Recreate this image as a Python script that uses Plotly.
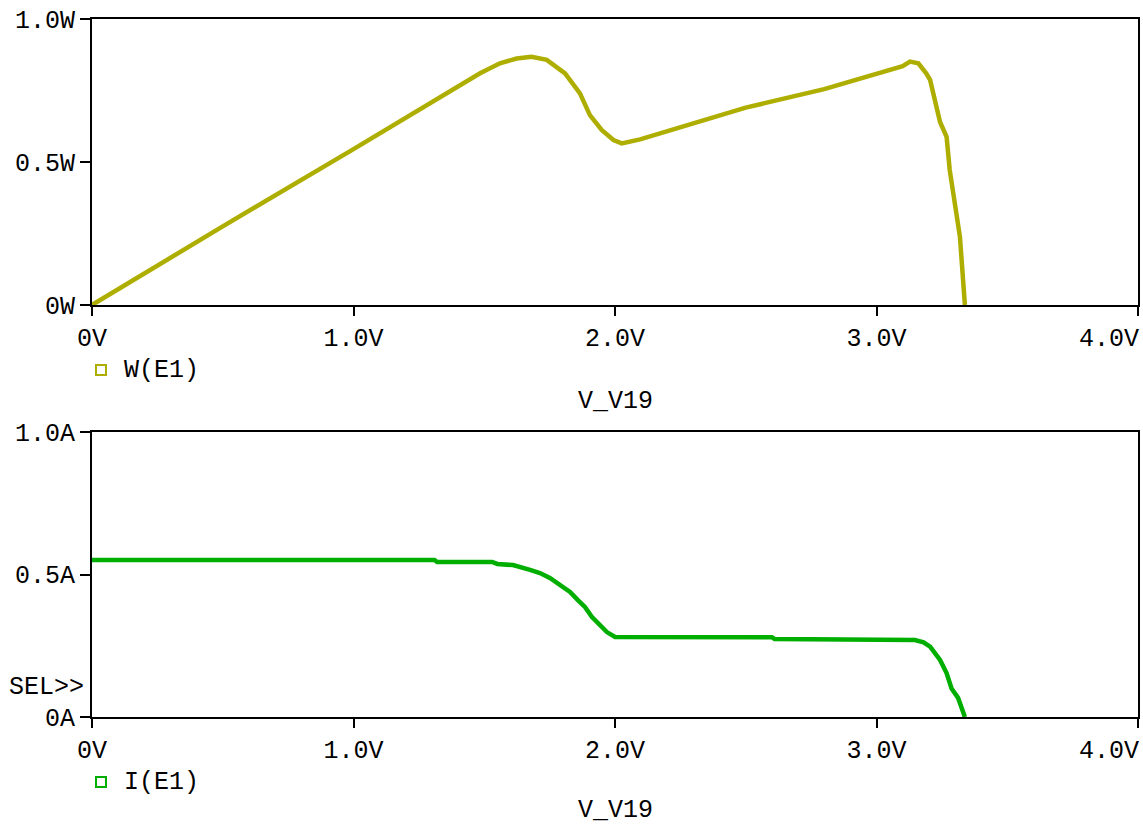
import plotly.graph_objects as go

# Sweep of V_V19 and the measured responses of E1
v_power = [0.0, 0.5, 1.0, 1.31, 1.484, 1.56, 1.624, 1.681, 1.739, 1.809, 1.866, 1.904,
           1.949, 1.994, 2.026, 2.096, 2.172, 2.5, 2.8, 3.0, 3.1, 3.128, 3.16, 3.19,
           3.205, 3.243, 3.268, 3.28, 3.307, 3.319, 3.338]
w_power = [0.0, 0.275, 0.545, 0.714, 0.81, 0.845, 0.862, 0.868, 0.857, 0.81, 0.74, 0.664,
           0.612, 0.577, 0.565, 0.579, 0.6, 0.69, 0.755, 0.81, 0.835, 0.851, 0.845, 0.81,
           0.787, 0.64, 0.588, 0.472, 0.297, 0.239, 0.0]

v_current = [0.0, 1.31, 1.32, 1.53, 1.55, 1.61, 1.675, 1.713, 1.751, 1.79, 1.828, 1.858,
             1.885, 1.912, 1.943, 1.969, 2.0, 2.6, 2.61, 3.147, 3.18, 3.205, 3.243, 3.268,
             3.287, 3.312, 3.338]
i_current = [0.551, 0.551, 0.544, 0.544, 0.537, 0.533, 0.516, 0.505, 0.488, 0.463, 0.439,
             0.41, 0.386, 0.351, 0.319, 0.298, 0.281, 0.280, 0.274, 0.270, 0.262, 0.247,
             0.2, 0.154, 0.1, 0.067, 0.0]

x_ticks = [0, 1, 2, 3, 4]
x_labels = ["0V", "1.0V", "2.0V", "3.0V", "4.0V"]
y_ticks = [0, 0.5, 1.0]
w_labels = ["0W", "0.5W", "1.0W"]
i_labels = ["0A", "0.5A", "1.0A"]

W_COLOR = "#AEAE00"
I_COLOR = "#00AE00"
FONT = "Liberation Mono"
FS = 25
W, H = 1143, 825

fig = go.Figure()
fig.add_trace(go.Scatter(x=v_power, y=w_power, mode="lines", name="W(E1)",
                         line=dict(color=W_COLOR, width=4.5), xaxis="x", yaxis="y"))
fig.add_trace(go.Scatter(x=v_current, y=i_current, mode="lines", name="I(E1)",
                         line=dict(color=I_COLOR, width=4.5), xaxis="x2", yaxis="y2"))

x0, x1 = 92 / W, 1138 / W
top_dom = [1 - 305 / H, 1 - 19 / H]
bot_dom = [1 - 717 / H, 1 - 432 / H]

# the last x label is pulled inside the page edge, so it is drawn separately
shown_x_labels = x_labels[:-1] + [""]

common_x = dict(range=[0, 4], tickvals=x_ticks, ticktext=shown_x_labels, showgrid=False,
                zeroline=False, showline=True, linecolor="black", linewidth=2,
                mirror=True, ticks="outside", ticklen=9, tickwidth=2, tickcolor="black",
                domain=[x0, x1], automargin=False, ticklabeloverflow="allow",
                tickfont=dict(family=FONT, size=FS, color="black"))
common_y = dict(range=[0, 1], tickvals=y_ticks, showgrid=False, zeroline=False,
                showline=True, linecolor="black", linewidth=2, mirror=True,
                ticks="outside", ticklen=10, tickwidth=2, tickcolor="black",
                automargin=False, ticklabeloverflow="allow",
                tickfont=dict(family=FONT, size=FS, color="black"))

fig.update_layout(
    width=W, height=H, margin=dict(l=0, r=0, t=0, b=0, autoexpand=False),
    paper_bgcolor="white", plot_bgcolor="white", showlegend=False,
    font=dict(family=FONT, size=FS, color="black"),
    xaxis=dict(common_x, anchor="y"),
    yaxis=dict(common_y, ticktext=w_labels, domain=top_dom, anchor="x"),
    xaxis2=dict(common_x, anchor="y2"),
    yaxis2=dict(common_y, ticktext=i_labels, domain=bot_dom, anchor="x2"),
)

for xr, yr in [("x", "y"), ("x2", "y2")]:
    fig.add_annotation(x=x_ticks[-1], y=0, xref=xr, yref=yr, text=x_labels[-1],
                       showarrow=False, xanchor="right", yanchor="middle",
                       xshift=3, yshift=-34,
                       font=dict(family=FONT, size=FS, color="black"))

# Legend entries: hollow squares with trace names, axis titles, selection marker
for cy, name, color in [(370, "W(E1)", W_COLOR), (782, "I(E1)", I_COLOR)]:
    fig.add_shape(type="rect", xref="paper", yref="paper",
                  x0=96 / W, x1=106 / W, y0=1 - (cy + 5) / H, y1=1 - (cy - 5) / H,
                  line=dict(color=color, width=2), fillcolor="rgba(0,0,0,0)")
    fig.add_annotation(x=122 / W, y=1 - cy / H, xref="paper", yref="paper",
                       text=name, showarrow=False, xanchor="left", yanchor="middle",
                       font=dict(family=FONT, size=FS, color="black"))

fig.add_annotation(x=615 / W, y=1 - 401 / H, xref="paper", yref="paper",
                   text="V_V19", showarrow=False, xanchor="center", yanchor="middle",
                   font=dict(family=FONT, size=FS, color="black"))
fig.add_annotation(x=615 / W, y=0, xref="paper", yref="paper",
                   text="V_V19", showarrow=False, xanchor="center", yanchor="bottom",
                   yshift=-2, font=dict(family=FONT, size=FS, color="black"))

fig.add_annotation(x=86 / W, y=1 - 687 / H, xref="paper", yref="paper",
                   text="SEL>>", showarrow=False, xanchor="right", yanchor="middle",
                   font=dict(family=FONT, size=FS, color="black"))

fig.write_html("out.html")
